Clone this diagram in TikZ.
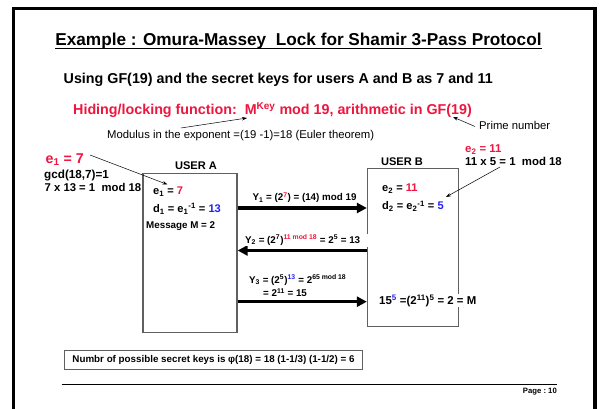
\documentclass[tikz,border=0pt]{standalone}
\usepackage{fontspec}
\setmainfont{Liberation Sans}
\usetikzlibrary{arrows.meta}
\definecolor{keyred}{RGB}{238,22,62}
\definecolor{keyblue}{RGB}{32,32,250}
\definecolor{edgegray}{RGB}{96,96,96}

\begin{document}
\begin{tikzpicture}[x=1pt,y=-1pt,
  boldtext/.style={inner sep=0pt, anchor=base west, font=\bfseries\fontsize{#1}{#1}\selectfont},
  regtext/.style={inner sep=0pt, anchor=base west, font=\fontsize{#1}{#1}\selectfont},
  userbox/.style={draw=edgegray, line width=1.3pt, inner sep=0pt},
  passarrow/.style={line width=3.3pt, -{Triangle[length=10pt,width=10pt]}},
  pointer/.style={line width=0.5pt, -{Stealth[length=5pt,width=3.5pt]}},
]
\useasboundingbox (0,0) rectangle (600,409);
\fill[white] (0,0) rectangle (600,409);

% slide frame
\draw[line width=3.4pt] (13.5,409) -- (13.5,8.5) -- (595,8.5) -- (595,409);

% heading and statement
\node[boldtext=17.2, anchor=base] (title) at (298.5,46) {Example : Omura-Massey\ \ Lock for Shamir 3-Pass Protocol};
\draw[line width=1.6pt] ([yshift=-2.6pt]title.base west) -- ([yshift=-2.6pt]title.base east);
\node[boldtext=14.3] (gf) at (63.5,83.5) {Using GF(19) and the secret keys for users A and B as 7 and 11};
\node[boldtext=14.3, text=keyred] (lock) at (73,114.3) {Hiding/locking function:\ \ M\textsuperscript{Key} mod 19, arithmetic in GF(19)};
\node[regtext=11.3] (euler) at (107,138.5) {Modulus in the exponent =(19 -1)=18 (Euler theorem)};
\node[regtext=11.3] (prime) at (479,130) {Prime number};

\coordinate (eulertail) at (181,128);
\coordinate (eulertip) at (247,118);
\draw[pointer] (eulertail) -- (eulertip);
\coordinate (primetail) at (475,126.5);
\coordinate (primetip) at (453,117);
\draw[pointer] (primetail) -- (primetip);

% key of user A
\node[boldtext=14.2, text=keyred] (e1out) at (45.5,163.5) {e\textsubscript{1} = 7};
\node[boldtext=11.7] (gcd) at (44,178.3) {gcd(18,7)=1};
\node[boldtext=11.3] (inv1) at (44.5,191.7) {7 x 13 = 1\ \ mod 18};

% key of user B
\node[boldtext=11.4, text=keyred] (e2out) at (465,152.3) {e\textsubscript{2} = 11};
\node[boldtext=11.4] (inv2) at (465,165.5) {11 x 5 = 1\ \ mod 18};

% the two users
\node[userbox, minimum width=94pt, minimum height=159.4pt] (boxA) at (190,253) {};
\node[userbox, minimum width=91pt, minimum height=158.4pt] (boxB) at (413,247.5) {};
\node[boldtext=11.1, anchor=base] (userA) at (196,169.5) {USER A};
\node[boldtext=11.1, anchor=base] (userB) at (402,165.5) {USER B};

\node[boldtext=11.1] (e1in) at (153,194.5) {e\textsubscript{1} = \textcolor{keyred}{7}};
\node[boldtext=11.1] (d1) at (153,212.7) {d\textsubscript{1} = e\textsubscript{1}\textsuperscript{-1} = \textcolor{keyblue}{13}};
\node[boldtext=9.8] (msg) at (146,228.5) {Message M = 2};

\node[boldtext=11.1] (e2in) at (382,191.5) {e\textsubscript{2} = \textcolor{keyred}{11}};
\node[boldtext=11.1] (d2) at (382,210) {d\textsubscript{2} = e\textsubscript{2}\textsuperscript{-1} = \textcolor{keyblue}{5}};

\coordinate (e1tail) at (90,155);
\coordinate (e1tip) at (167.5,184.5);
\draw[pointer] (e1tail) -- (e1tip);
\coordinate (e2tail) at (500,167);
\coordinate (e2tip) at (446,197);
\draw[pointer] (e2tail) -- (e2tip);

% pass 1
\draw[passarrow] (boxA.east |- 0,208) -- (boxB.west |- 0,208);
\node[boldtext=9.8, anchor=base] (y1) at (304.5,200.7) {Y\textsubscript{1} = (2\textsuperscript{\textcolor{keyred}{7}}) = (14) mod 19};

% pass 2
\draw[passarrow] (boxB.west |- 0,250.5) -- (boxA.east |- 0,250.5);
\node[boldtext=9.8, fill=white, inner ysep=1pt] (y2) at (245,243.3) {Y\textsubscript{2} = (2\textsuperscript{7})\textsuperscript{\textcolor{keyred}{11 mod 18}} = 2\textsuperscript{5} = 13};
\fill[white] (y2.north east) rectangle ([xshift=2pt]boxB.west |- y2.south);

% pass 3
\draw[passarrow] (boxA.east |- 0,301.7) -- (boxB.west |- 0,301.7);
\node[boldtext=9.8] (y3) at (249,283.3) {Y\textsubscript{3} = (2\textsuperscript{5})\textsuperscript{\textcolor{keyblue}{13}} = 2\textsuperscript{65 mod 18}};
\node[boldtext=9.8] (y3b) at (263,296.7) {= 2\textsuperscript{11} = 15};
\node[boldtext=11.4, fill=white, inner sep=1pt] (result) at (378,304) {15\textsuperscript{\textcolor{keyblue}{5}} =(2\textsuperscript{11})\textsuperscript{5} = 2 = M};

% key space
\node[draw=edgegray, line width=1pt, minimum width=298.5pt, minimum height=19pt, inner sep=0pt,
      font=\bfseries\fontsize{9.8}{9.8}\selectfont] (count) at (213.5,359.5)
      {Numbr of possible secret keys is φ(18) = 18 (1-1/3) (1-1/2) = 6};

% footer
\draw[line width=1pt] (61.5,384.3) -- (557,384.3);
\node[boldtext=7.7, anchor=base east] (page) at (557,393.3) {Page :\ 10};
\end{tikzpicture}
\end{document}
